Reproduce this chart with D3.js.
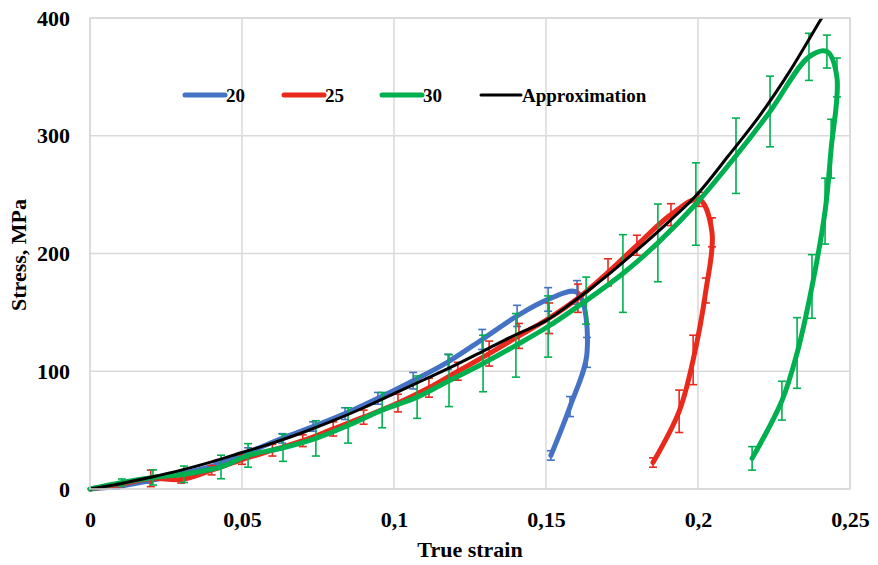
<!DOCTYPE html>
<html>
<head>
<meta charset="utf-8">
<script src="https://cdn.jsdelivr.net/npm/d3@7"></script>
<style>
  body { margin: 0; background: #fff; }
  text { font-family: "Liberation Serif", "Times New Roman", serif; font-weight: bold; }
</style>
</head>
<body>
<svg id="chart" width="878" height="565"></svg>
<script>
// series "20"
var strain20 = [0, 0.0086, 0.0194, 0.0303, 0.0411, 0.052, 0.0632, 0.0734, 0.0839, 0.0947, 0.1063, 0.1178, 0.129, 0.1405, 0.1507, 0.1602, 0.1635, 0.1579, 0.1516];
var stress20 = [0, 2, 7, 13, 20, 31, 43, 53, 64, 77, 92, 108, 127, 147, 161, 167, 116, 70, 28.5];
var err20    = [0, 2, 2, 2, 3, 4, 4, 4, 5, 5, 7, 6.5, 8.5, 9, 10, 10, 12.7, 8.5, 4];

// series "25"
var strain25 = [0, 0.01, 0.02, 0.03, 0.04, 0.05, 0.06, 0.07, 0.08, 0.09, 0.1013, 0.1115, 0.121, 0.1313, 0.1411, 0.151, 0.1605, 0.1704, 0.1799, 0.1911, 0.2003, 0.2046, 0.2026, 0.1984, 0.1938, 0.1852];
var stress25 = [0, 4, 9, 8, 16, 25, 33, 41, 51, 61, 73, 86, 100, 115, 130, 145, 162, 184, 207, 233, 246, 218, 168.6, 109.6, 66, 22.5];
var err25    = [0, 2, 7, 3, 4, 4, 5, 5, 6, 6, 7.5, 8, 7.6, 10.6, 10.6, 13, 12, 11.5, 8.5, 9.3, 6, 12.3, 10.6, 21, 18, 4];

// series "30"
var strain30 = [0, 0.0105, 0.0207, 0.0309, 0.0431, 0.052, 0.0635, 0.0743, 0.0849, 0.0961, 0.1076, 0.1181, 0.1293, 0.1401, 0.1507, 0.1632, 0.1753, 0.1868, 0.1993, 0.2125, 0.2237, 0.2365, 0.2424, 0.2457, 0.2438, 0.2418, 0.2375, 0.2326, 0.2276, 0.2178];
var stress30 = [0, 5.5, 9.8, 12.5, 18.7, 28.5, 35, 43, 54, 67, 78, 92, 106.6, 122, 138, 160, 183, 209, 242, 283, 320.6, 367, 371.5, 349.5, 289, 236, 172, 115.5, 75, 26];
var err30    = [0, 3, 6.4, 7, 10, 10, 11.5, 15, 15, 15, 18, 22, 24, 27, 26, 20, 33, 33, 35, 32, 30, 20, 14, 16.5, 25, 28, 27, 30, 16.5, 10];

// approximation
var strainApprox = [0, 0.01, 0.02, 0.03, 0.04, 0.05, 0.06, 0.07, 0.08, 0.09, 0.1, 0.11, 0.12, 0.13, 0.14, 0.15, 0.16, 0.17, 0.18, 0.19, 0.2, 0.21, 0.22, 0.23, 0.24, 0.2412];
var stressApprox = [0, 4.5, 10, 16, 23, 31, 39, 48, 58, 69, 81, 93, 105, 118, 131, 143, 161, 181, 203, 226, 251, 283, 316, 354, 397, 402];

var xTicks = [0, 0.05, 0.1, 0.15, 0.2, 0.25];
var yTicks = [0, 100, 200, 300, 400];
var legendNames = ["20", "25", "30", "Approximation"];
var colors = ["#4472c4", "#e8291c", "#00b050", "#000000"];

var svg = d3.select("#chart");
var margin = { top: 18, right: 28, bottom: 76, left: 90 };
var width = 878 - margin.left - margin.right;
var height = 565 - margin.top - margin.bottom;

var x = d3.scaleLinear().domain([0, 0.25]).range([0, width]);
var y = d3.scaleLinear().domain([0, 400]).range([height, 0]);

var g = svg.append("g").attr("transform", "translate(" + margin.left + "," + margin.top + ")");

svg.append("defs").append("clipPath").attr("id", "clip")
  .append("rect").attr("x", -5).attr("y", 0).attr("width", width + 10).attr("height", height + 5);

// grid
g.selectAll(".vgrid").data(xTicks).enter().append("line")
  .attr("x1", d => x(d)).attr("x2", d => x(d))
  .attr("y1", 0).attr("y2", height)
  .attr("stroke", "#d9d9d9").attr("stroke-width", 1.5);
g.selectAll(".hgrid").data(yTicks).enter().append("line")
  .attr("x1", 0).attr("x2", width)
  .attr("y1", d => y(d)).attr("y2", d => y(d))
  .attr("stroke", "#d9d9d9").attr("stroke-width", 1.5);

// axes (labels only)
var xAxis = g.append("g").attr("transform", "translate(0," + height + ")")
  .call(d3.axisBottom(x).tickValues(xTicks).tickSize(0).tickPadding(22)
    .tickFormat(d => d === 0 ? "0" : String(d).replace(".", ",")));
var yAxis = g.append("g")
  .call(d3.axisLeft(y).tickValues(yTicks).tickSize(0).tickPadding(20));
[xAxis, yAxis].forEach(function (a) {
  a.select(".domain").remove();
  a.selectAll("text").attr("font-size", "22px").attr("fill", "#000")
    .attr("font-family", "Liberation Serif").attr("font-weight", "bold");
});

// axis titles
svg.append("text")
  .attr("x", 470).attr("y", 557)
  .attr("text-anchor", "middle").attr("font-size", "22px")
  .text("True strain");
svg.append("text")
  .attr("transform", "translate(26," + 255 + ") rotate(-90)")
  .attr("text-anchor", "middle").attr("font-size", "22px")
  .text("Stress, MPa");

var line = d3.line()
  .x(d => x(d[0])).y(d => y(d[1]))
  .curve(d3.curveCatmullRom.alpha(0.5));

var plot = g.append("g").attr("clip-path", "url(#clip)");

function drawSeries(strain, stress, err, color) {
  var pts = strain.map((s, i) => [s, stress[i], err[i]]);
  plot.append("path").datum(pts)
    .attr("fill", "none").attr("stroke", color)
    .attr("stroke-width", 5).attr("stroke-linecap", "round").attr("stroke-linejoin", "round")
    .attr("d", line);
  var bars = plot.append("g").selectAll("g").data(pts.filter(d => d[2] > 0)).enter().append("g")
    .attr("stroke", color).attr("stroke-width", 1.6);
  bars.append("line")
    .attr("x1", d => x(d[0])).attr("x2", d => x(d[0]))
    .attr("y1", d => y(d[1] - d[2])).attr("y2", d => y(d[1] + d[2]));
  bars.append("line")
    .attr("x1", d => x(d[0]) - 4).attr("x2", d => x(d[0]) + 4)
    .attr("y1", d => y(d[1] + d[2])).attr("y2", d => y(d[1] + d[2]));
  bars.append("line")
    .attr("x1", d => x(d[0]) - 4).attr("x2", d => x(d[0]) + 4)
    .attr("y1", d => y(d[1] - d[2])).attr("y2", d => y(d[1] - d[2]));
}

drawSeries(strain20, stress20, err20, colors[0]);
drawSeries(strain25, stress25, err25, colors[1]);
drawSeries(strain30, stress30, err30, colors[2]);

plot.append("path")
  .datum(strainApprox.map((s, i) => [s, stressApprox[i]]))
  .attr("fill", "none").attr("stroke", colors[3]).attr("stroke-width", 3)
  .attr("d", line);

// plot border
g.append("rect").attr("x", 0).attr("y", 0).attr("width", width).attr("height", height)
  .attr("fill", "none").attr("stroke", "#d9d9d9").attr("stroke-width", 1.5);

// legend
var legendX = [185, 284, 382, 481];
var legend = svg.selectAll(".legend").data(legendNames).enter().append("g")
  .attr("transform", (d, i) => "translate(" + legendX[i] + ",95)");
legend.append("line")
  .attr("x1", 0).attr("x2", 40).attr("y1", 0).attr("y2", 0)
  .attr("stroke", (d, i) => colors[i])
  .attr("stroke-width", (d, i) => i === 3 ? 3 : 5)
  .attr("stroke-linecap", "round");
legend.append("text")
  .attr("x", 41).attr("y", 7)
  .attr("font-size", "19px")
  .text(d => d);
</script>
</body>
</html>
